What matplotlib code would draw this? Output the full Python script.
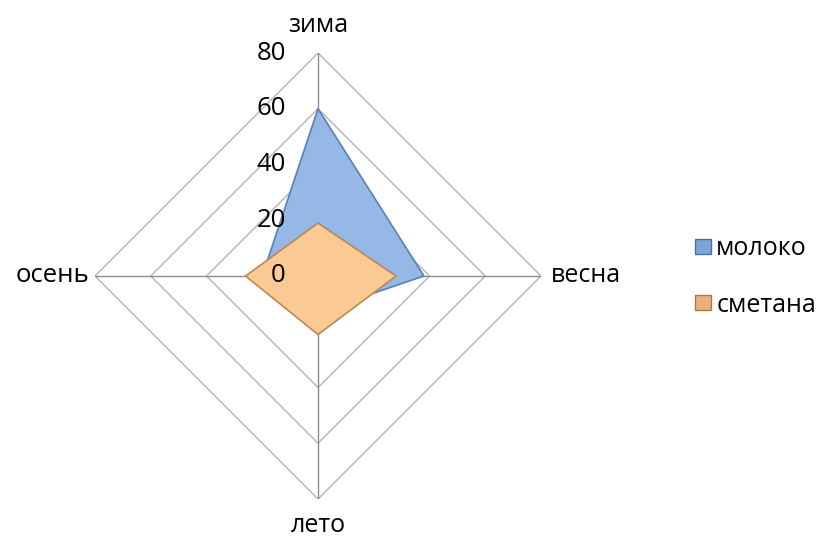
import numpy as np
import matplotlib.pyplot as plt
from matplotlib.patches import Patch

categories = ["зима", "весна", "лето", "осень"]
moloko = [60, 38, 13, 20]
smetana = [19, 28, 21, 26]
series_names = ["молоко", "сметана"]
r_ticks = [0, 20, 40, 60, 80]

plt.rcParams['font.family'] = ['Open Sans', 'DejaVu Sans']

fig = plt.figure(figsize=(8.24, 5.39), dpi=100)
ax = fig.add_axes([95 / 824, 40 / 539, 446 / 824, 446 / 539], projection='polar')
ax.set_theta_offset(np.pi / 2)
ax.set_theta_direction(-1)
ax.set_ylim(0, 80)
ax.set_xticks([])
ax.set_yticks([])
ax.grid(False)
ax.spines['polar'].set_visible(False)
ax.patch.set_alpha(0)

theta = np.arange(len(categories)) * 2 * np.pi / len(categories)
th_closed = np.append(theta, theta[0])

# сетка ромбами
for r in r_ticks[1:]:
    ax.plot(th_closed, [r] * len(th_closed), color='#b3b3b3', lw=1, zorder=1)
for t in theta:
    ax.plot([t, t], [0, 80], color='#8c8c8c', lw=1, zorder=1)

ax.fill(th_closed, moloko + moloko[:1], facecolor='#95b8e6', edgecolor='#5a7fb5',
        lw=1.2, zorder=2)
ax.fill(th_closed, smetana + smetana[:1], facecolor='#fbc993', edgecolor='#b8885a',
        lw=1.2, zorder=3)

for r in r_ticks:
    ax.annotate(str(r), xy=(0, r), xytext=(-32, 0), textcoords='offset pixels',
                ha='right', va='center', fontsize=18.5, zorder=4)

ax.text(theta[0], 90, categories[0], ha='center', va='center', fontsize=18, clip_on=False)
ax.text(theta[1], 83.5, categories[1], ha='left', va='center', fontsize=18, clip_on=False)
ax.text(theta[2], 89.5, categories[2], ha='center', va='center', fontsize=18, clip_on=False)
ax.text(theta[3], 82, categories[3], ha='right', va='center', fontsize=18.5, clip_on=False)

handles = [Patch(facecolor='#7fa3d6', edgecolor='#4f6f9f'),
           Patch(facecolor='#e9b07c', edgecolor='#a97850')]
fig.legend(handles, series_names, loc='center left', bbox_to_anchor=(695 / 824, 1 - 277 / 539),
           frameon=False, fontsize=18, handlelength=0.65, handleheight=0.55,
           handletextpad=0.2, labelspacing=1.25, borderpad=0, borderaxespad=0)

fig.savefig('out.png', dpi=100)
